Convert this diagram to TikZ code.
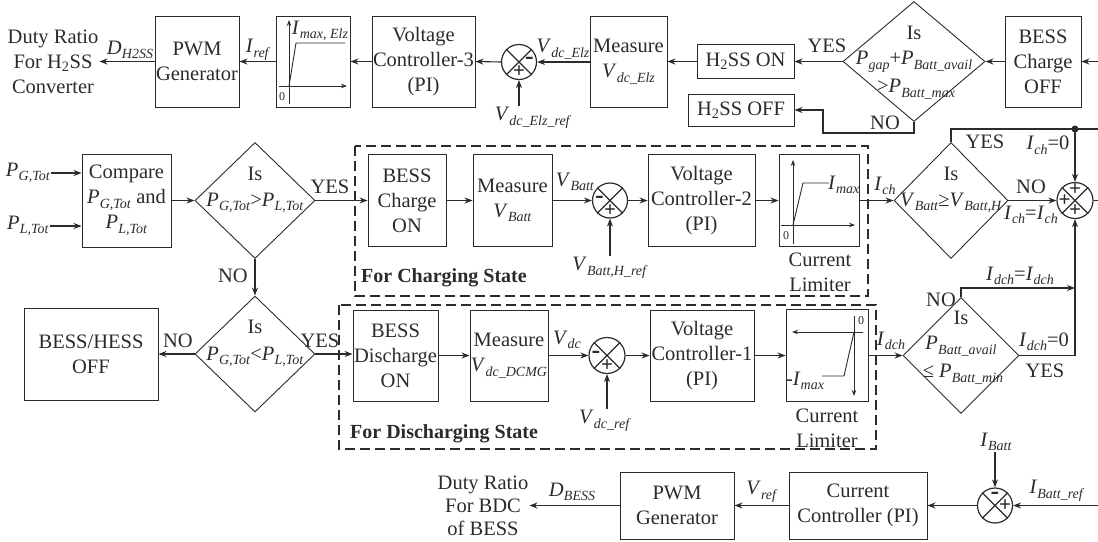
\documentclass[tikz,border=0pt]{standalone}
\usepackage{fontspec}
\setmainfont{Liberation Serif}
\usetikzlibrary{arrows.meta,shapes.geometric}
\definecolor{lc}{HTML}{2B2B2B}
\newcommand{\sg}[2]{\textit{#1}\kern0.2pt\raisebox{-4.5pt}{\fontsize{14}{14}\selectfont\textit{#2}}}
\begin{document}
\begin{tikzpicture}[x=1pt,y=-1pt,
  every node/.style={font=\fontsize{20.5}{25}\selectfont, text=lc},
  box/.style={draw=lc, line width=0.9pt, align=center, inner sep=0pt},
  wire/.style={draw=lc, line width=1.1pt},
  arr/.style={wire, -{Stealth[length=8pt,width=6pt]}},
  dia/.style={diamond, draw=lc, line width=0.9pt, inner sep=0pt},
  sumj/.style={circle, draw=lc, line width=1.2pt, inner sep=0pt, minimum size=35pt},
  lbl/.style={inner sep=1pt, align=center},
  sgn/.style={inner sep=0pt, font=\bfseries\fontsize{21}{21}\selectfont},
  msgn/.style={inner sep=0pt, font=\bfseries\fontsize{26}{26}\selectfont},
  dbox/.style={draw=lc, line width=1.1pt, dash pattern=on 10pt off 5pt},
  ax/.style={draw=lc, line width=0.9pt, -{Stealth[length=6pt,width=4.5pt]}},
  cv/.style={draw=lc, line width=0.9pt},
  zero/.style={inner sep=0pt, font=\fontsize{12}{12}\selectfont},
  bold/.style={inner sep=0pt, anchor=west, font=\bfseries\fontsize{20}{25}\selectfont}
]
\useasboundingbox (0,0) rectangle (1098,541);

% ---------------- top row ----------------
\node[lbl] (duty1) at (53,62) {Duty Ratio\\For H\textsubscript{2}SS\\Converter};
\node[box, minimum width=84pt, minimum height=91pt] (pwm1) at (197,61.5) {PWM\\Generator};
\node[box, minimum width=74pt, minimum height=91pt] (lim1) at (313,61.5) {};
\node[box, minimum width=103pt, minimum height=91pt] (vc3) at (423.5,61.5) {Voltage\\Controller-3\\(PI)};
\node[sumj] (c1) at (519,62) {};
\node[box, minimum width=77pt, minimum height=91pt] (meas1) at (628.5,61.5) {Measure\\\sg{V}{dc\_Elz}};
\node[box, minimum width=97pt, minimum height=34pt] (h2on) at (745.5,61.5) {H\textsubscript{2}SS ON};
\node[dia, minimum width=142pt, minimum height=120pt] (d1) at (914,61.5) {};
\node[lbl] at (914,33) {Is};
\node[lbl] at (914,62) {\sg{P}{gap}+\sg{P}{Batt\_avail}};
\node[lbl] at (916,89) {>\sg{P}{Batt\_max}};
\node[box, minimum width=106pt, minimum height=32pt] (h2off) at (741,110) {H\textsubscript{2}SS OFF};
\node[box, minimum width=76pt, minimum height=91pt] (boff) at (1043,61.5) {BESS\\Charge\\OFF};
\coordinate (rin1) at (1098,61.5);
\coordinate (n1) at (823,133);

% limiter 1 graphics
\draw[ax] (289,104) -- (289,20);
\draw[ax] (279,86) -- (347,86);
\draw[cv] (289,86) -- (296,43) -- (345,43);
\node[zero] at (282,97) {0};
\node[lbl] at (320,31) {\sg{I}{max, Elz}};

\node[lbl] at (130,50) {\sg{D}{H2SS}};
\node[lbl] at (258,50) {\sg{I}{ref}};
\node[lbl] at (563,49) {\sg{V}{dc\_Elz}};
\node[lbl] (vref1) at (533,118) {\sg{V}{dc\_Elz\_ref}};
\node[lbl] at (827,46) {YES};
\node[lbl] at (885,123) {NO};

\draw[arr] (pwm1.west) -- (pwm1.west -| duty1.east);
\draw[arr] (lim1.west) -- (pwm1.east);
\draw[arr] (vc3.west) -- (lim1.east);
\draw[arr] (c1.west) -- (vc3.east);
\draw[arr] (meas1.west |- c1.east) -- (c1.east);
\draw[arr] (vref1.north -| c1.south) -- (c1.south);
\draw[arr] (h2on.west) -- (h2on.west -| meas1.east);
\draw[arr] (d1.west) -- (h2on.east);
\draw[arr] (boff.west) -- (d1.east);
\draw[arr] (rin1) -- (boff.east);
\draw[arr] (d1.south) |- (n1) |- (h2off.east);

% ---------------- middle row 1 ----------------
\node[lbl] (pg) at (28,173) {\sg{P}{G,Tot}};
\node[lbl] (pl) at (28,226) {\sg{P}{L,Tot}};
\node[box, minimum width=89pt, minimum height=93pt] (cmp) at (126.5,200.5) {Compare\\\sg{P}{G,Tot} and\\\sg{P}{L,Tot}};
\node[dia, minimum width=120pt, minimum height=116pt] (d2) at (255,200.5) {};
\node[lbl] at (255,174) {Is};
\node[lbl] at (255,203) {\sg{P}{G,Tot}>\sg{P}{L,Tot}};
\node[lbl] at (330,187) {YES};
\draw[dbox] (355,146) rectangle (868,296);
\node[box, minimum width=78pt, minimum height=92pt] (bon) at (407,200.5) {BESS\\Charge\\ON};
\node[box, minimum width=79pt, minimum height=92pt] (measb) at (512.5,200.5) {Measure\\\sg{V}{Batt}};
\node[sumj] (c2) at (610,200.5) {};
\node[lbl] at (575,182) {\sg{V}{Batt}};
\node[lbl] (vbh) at (610,268) {\sg{V}{Batt,H\_ref}};
\node[box, minimum width=107pt, minimum height=92pt] (vc2) at (701.5,200.5) {Voltage\\Controller-2\\(PI)};
\node[box, minimum width=80pt, minimum height=92pt] (lim2) at (819,200.5) {};
\draw[ax] (793,244) -- (793,160);
\draw[ax] (781,225) -- (855,225);
\draw[cv] (793,225) -- (803,183) -- (829,183);
\node[zero] at (786,236) {0};
\node[lbl, anchor=west, inner sep=0pt] at (828,185) {\sg{I}{max}};
\node[lbl] at (820,272) {Current\\Limiter};
\node[bold] at (361,278) {For Charging State};
\node[lbl] at (885,186) {\sg{I}{ch}};
\node[dia, minimum width=114pt, minimum height=116pt] (d3) at (951,200.5) {};
\node[lbl] at (951,174) {Is};
\node[lbl] at (951,203) {\sg{V}{Batt}≥\sg{V}{Batt,H}};
\node[sumj, minimum size=36pt] (c3) at (1075,200.5) {};
\coordinate (dot) at (1075,129);
\coordinate (rout1) at (1098,129);
\coordinate (rout2) at (1098,200.5);
\node[lbl] at (985,142) {YES};
\node[lbl] at (1048,145) {\sg{I}{ch}=0};
\node[lbl] at (1031,187) {NO};
\node[lbl] at (1031,215) {\sg{I}{ch}=\sg{I}{ch}};
\node[lbl] at (233,276) {NO};

\draw[arr] (pg.east) -- (pg.east -| cmp.west);
\draw[arr] (pl.east) -- (pl.east -| cmp.west);
\draw[arr] (cmp.east) -- (d2.west);
\draw[arr] (d2.east) -- (bon.west);
\draw[arr] (bon.east) -- (measb.west);
\draw[arr] (measb.east) -- (c2.west);
\draw[arr] (vbh.north -| c2.south) -- (c2.south);
\draw[arr] (c2.east) -- (vc2.west);
\draw[arr] (vc2.east) -- (lim2.west);
\draw[arr] (lim2.east) -- (d3.west);
\draw[arr] (d3.east) -- (c3.west);
\draw[wire] (d3.north) |- (dot) -- (rout1);
\fill[lc] (dot) circle (3.5pt);
\draw[arr] (dot) -- (c3.north);
\draw[wire] (c3.east) -- (rout2);

% ---------------- middle row 2 ----------------
\node[dia, minimum width=120pt, minimum height=116pt] (d4) at (255,354) {};
\node[lbl] at (255,327) {Is};
\node[lbl] at (255,357) {\sg{P}{G,Tot}<\sg{P}{L,Tot}};
\node[box, minimum width=134pt, minimum height=92pt] (bhoff) at (91,354) {BESS/HESS\\OFF};
\node[lbl] at (178,341) {NO};
\node[lbl] at (320,341) {YES};
\draw[dbox] (339,305) rectangle (876,449);
\node[box, minimum width=85pt, minimum height=91pt] (bdon) at (395.5,355.5) {BESS\\Discharge\\ON};
\node[box, minimum width=78pt, minimum height=91pt] (measd) at (509,355.5) {Measure\\\sg{V}{dc\_DCMG}};
\node[sumj, minimum size=36pt] (c4) at (607,355.5) {};
\node[lbl] at (567,340) {\sg{V}{dc}};
\node[lbl] (vdr) at (605,421) {\sg{V}{dc\_ref}};
\node[box, minimum width=104pt, minimum height=91pt] (vc1) at (702,355.5) {Voltage\\Controller-1\\(PI)};
\node[box, minimum width=82pt, minimum height=92pt] (lim3) at (827,355.5) {};
\draw[ax] (854,316) -- (854,396);
\draw[ax] (863,332) -- (792,332);
\draw[cv] (854,332) -- (844,376) -- (822,376);
\node[zero] at (861,321) {0};
\node[lbl, inner sep=0pt] at (805,381) {-\sg{I}{max}};
\node[lbl] at (827,428) {Current\\Limiter};
\node[bold] at (350,434) {For Discharging State};
\node[lbl] at (891,341) {\sg{I}{dch}};
\node[dia, minimum width=116pt, minimum height=116pt] (d5) at (961,355.5) {};
\node[lbl] at (961,318) {Is};
\node[lbl] at (961,346) {\sg{P}{Batt\_avail}};
\node[lbl] at (963,374) {≤ \sg{P}{Batt\_min}};
\coordinate (nod) at (1075,288);
\node[lbl] at (1044,342) {\sg{I}{dch}=0};
\node[lbl] at (1045,371) {YES};
\node[lbl] at (941,300) {NO};
\node[lbl] at (1020,276) {\sg{I}{dch}=\sg{I}{dch}};

\draw[arr] (d2.south) -- (d4.north);
\draw[arr] (d4.west) -- (bhoff.east);
\draw[arr] (d4.east) -- (d4.east -| bdon.west);
\draw[arr] (bdon.east) -- (measd.west);
\draw[arr] (measd.east) -- (c4.west);
\draw[arr] (vdr.north -| c4.south) -- (c4.south);
\draw[arr] (c4.east) -- (vc1.west);
\draw[arr] (vc1.east) -- (lim3.west);
\draw[arr] (lim3.east) -- (d5.west);
\draw[arr] (d5.east) -| (c3.south);
\draw[arr] (d5.north) |- (nod);

% ---------------- bottom row ----------------
\node[lbl, font=\fontsize{20.5}{23}\selectfont] (duty2) at (483,506) {Duty Ratio\\For BDC\\of BESS};
\node[box, minimum width=114pt, minimum height=67pt] (pwm2) at (677,505.5) {PWM\\Generator};
\node[box, minimum width=138pt, minimum height=67pt] (cc) at (858,505.5) {Current\\Controller (PI)};
\node[sumj] (c5) at (995,505.5) {};
\node[lbl] (ib) at (996,442) {\sg{I}{Batt}};
\node[lbl] at (1057,491) {\sg{I}{Batt\_ref}};
\node[lbl] at (572,492) {\sg{D}{BESS}};
\node[lbl] at (762,492) {\sg{V}{ref}};
\coordinate (rin2) at (1098,505.5);

\draw[arr] (pwm2.west) -- (pwm2.west -| duty2.east);
\draw[arr] (cc.west) -- (pwm2.east);
\draw[arr] (c5.west) -- (cc.east);
\draw[arr] (rin2) -- (c5.east);
\draw[arr] (ib.south -| c5.north) -- (c5.north);

% ---------------- summing junctions ----------------
\foreach \n in {c1,c2,c3,c4,c5}
  \draw[wire] (\n.north west) -- (\n.south east) (\n.north east) -- (\n.south west);
\node[msgn] at ([xshift=10.5pt,yshift=1pt]c1.center) {-};
\node[sgn] at ([yshift=-10pt]c1.center) {+};
\node[msgn] at ([xshift=-10.5pt,yshift=1pt]c2.center) {-};
\node[sgn] at ([yshift=-10pt]c2.center) {+};
\node[sgn] at ([yshift=10.5pt]c3.center) {+};
\node[sgn] at ([xshift=-10.5pt]c3.center) {+};
\node[sgn] at ([yshift=-10.5pt]c3.center) {+};
\node[msgn] at ([xshift=-11pt,yshift=1pt]c4.center) {-};
\node[sgn] at ([yshift=-10.5pt]c4.center) {+};
\node[msgn] at ([yshift=10pt]c5.center) {-};
\node[sgn] at ([xshift=10pt]c5.center) {+};
\end{tikzpicture}
\end{document}
